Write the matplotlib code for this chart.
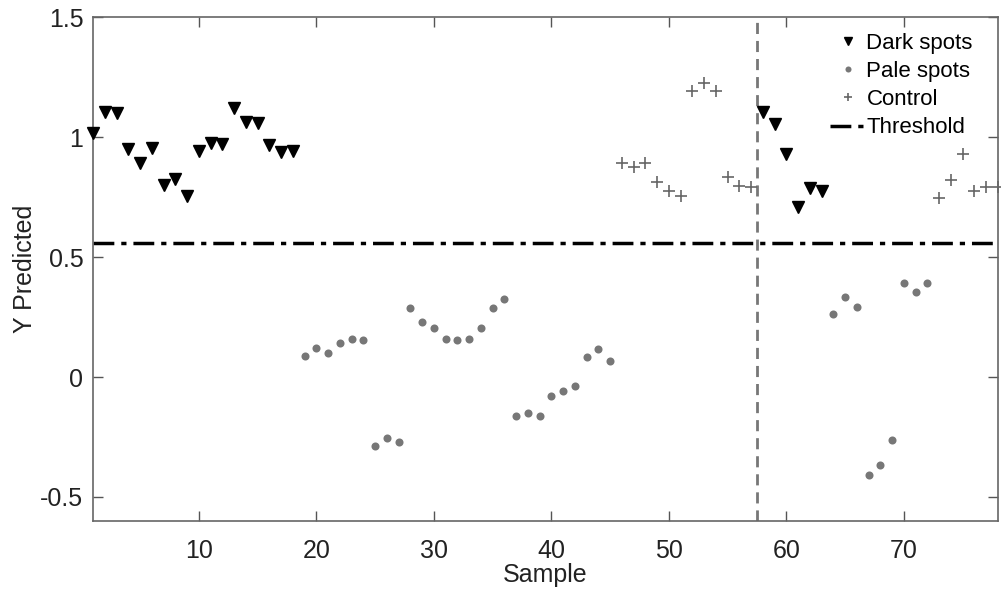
import numpy as np
import matplotlib.pyplot as plt

plt.rcParams['font.family'] = ['Liberation Sans', 'DejaVu Sans']

# dark spots
dark_x = list(range(1, 19)) + list(range(58, 64))
dark_y = [1.015, 1.103, 1.099, 0.95, 0.894, 0.955, 0.80, 0.825, 0.755, 0.94,
          0.975, 0.972, 1.12, 1.064, 1.057, 0.967, 0.939, 0.943,
          1.103, 1.053, 0.93, 0.708, 0.789, 0.776]

# pale spots
pale_x = list(range(19, 46)) + list(range(64, 73))
pale_y = [0.089, 0.119, 0.101, 0.142, 0.158, 0.156, -0.286, -0.254, -0.269,
          0.288, 0.228, 0.203, 0.158, 0.156, 0.158, 0.203, 0.288, 0.325,
          -0.161, -0.149, -0.161, -0.081, -0.06, -0.039, 0.085, 0.115, 0.065,
          0.264, 0.332, 0.292, -0.408, -0.368, -0.263, 0.39, 0.353, 0.393]

# control
ctrl_x = list(range(46, 58)) + list(range(73, 79))
ctrl_y = [0.894, 0.874, 0.894, 0.811, 0.774, 0.755, 1.19, 1.225, 1.193,
          0.832, 0.797, 0.794,
          0.745, 0.822, 0.929, 0.776, 0.794, 0.794]

threshold = 0.56
split_x = 57.5

fig = plt.figure(figsize=(10.01, 5.9), dpi=100)
ax = fig.add_axes([0.093, 0.117, 0.904, 0.854])

ax.plot(dark_x, dark_y, 'v', color='black', markersize=8, label='Dark spots', clip_on=False, zorder=3)
ax.plot(pale_x, pale_y, 'o', color='#777777', markersize=5.8, markeredgewidth=0, label='Pale spots', zorder=3)
ax.plot(ctrl_x, ctrl_y, '+', color='#666666', markersize=8, markeredgewidth=1.2, label='Control', clip_on=False, zorder=3)
ax.axhline(threshold, color='black', linestyle=(0, (6, 2, 1.5, 2)), linewidth=2.5, label='Threshold')
ax.axvline(split_x, color='#777777', linestyle=(0, (4, 2.5)), linewidth=2)

ax.set_xlim(1, 78)
ax.set_ylim(-0.6, 1.5)
ax.set_xticks([10, 20, 30, 40, 50, 60, 70])
ax.set_yticks([-0.5, 0, 0.5, 1, 1.5])
ax.set_yticklabels(['-0.5', '0', '0.5', '1', '1.5'])
ax.tick_params(direction='in', length=7, width=1, color='#555555', labelsize=18,
               top=True, right=True, labelcolor='#222222')
ax.tick_params(axis='x', pad=13)
ax.tick_params(axis='y', pad=7)
for s in ax.spines.values():
    s.set_color('#666666')
    s.set_linewidth(1.2)

ax.set_xlabel('Sample', fontsize=18, labelpad=0, color='#222222')
ax.set_ylabel('Y Predicted', fontsize=18, labelpad=2, color='#222222')

leg = ax.legend(loc='upper right', bbox_to_anchor=(0.982, 0.986), frameon=False,
                fontsize=16, handlelength=1.6, handletextpad=0.05, borderaxespad=0,
                labelspacing=0.32, markerscale=0.75)

fig.savefig('out.png', dpi=100)
